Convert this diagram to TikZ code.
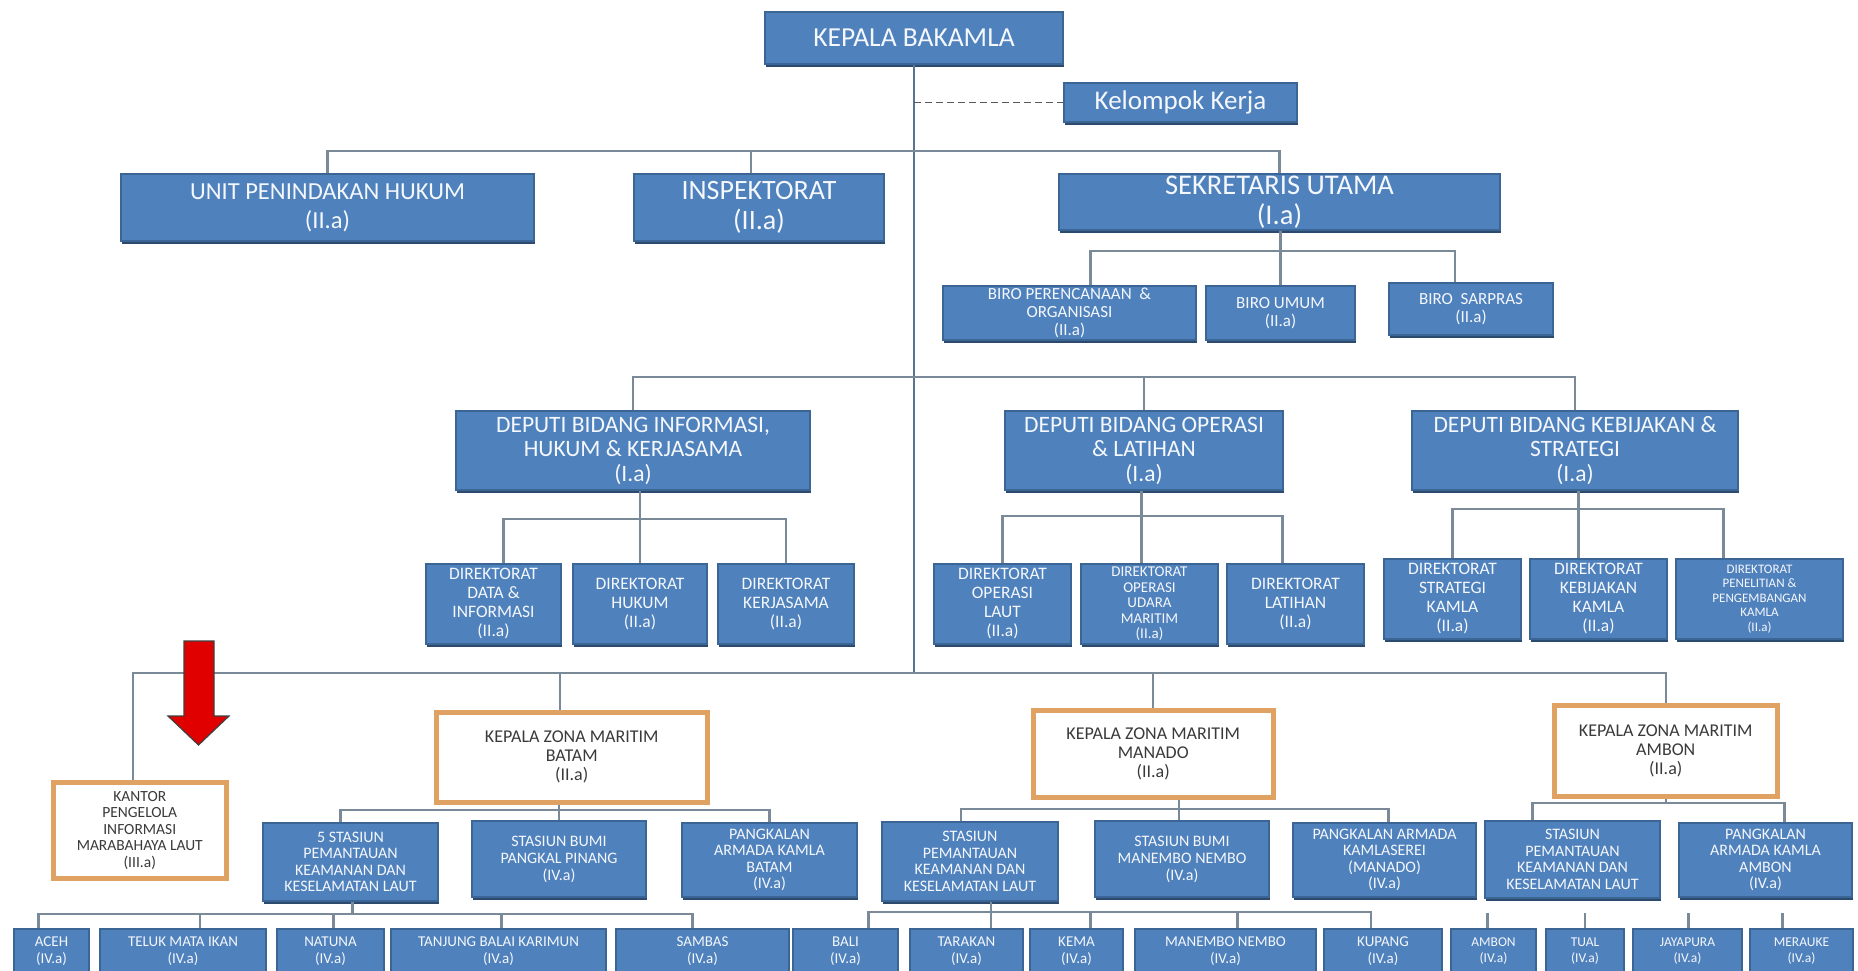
\documentclass[tikz,border=0pt]{standalone}
\usepackage{fontspec}
\setmainfont{Carlito}
\usetikzlibrary{shadows,calc}
\definecolor{boxblue}{HTML}{4F81BD}
\definecolor{boxedge}{HTML}{3A6595}
\definecolor{boxshadow}{HTML}{2B4A6E}
\definecolor{boxtext}{HTML}{F4F7FB}
\definecolor{connc}{HTML}{7A8A99}
\definecolor{trunkc}{HTML}{5A7490}
\definecolor{zoneedge}{HTML}{E0A263}
\definecolor{zonetext}{HTML}{3A3A3A}
\definecolor{arrowred}{HTML}{E00000}
\tikzset{
  bbox/.style={draw=boxedge, line width=2pt, fill=boxblue, text=boxtext, inner sep=0pt, align=center,
     drop shadow={shadow xshift=0.5pt, shadow yshift=-3pt, fill=boxshadow, opacity=1}},
  zbox/.style={draw=zoneedge, line width=4.5pt, fill=white, text=zonetext, inner sep=0pt, align=center,
     drop shadow={shadow xshift=1pt, shadow yshift=-2pt, fill=black!20, opacity=1}},
  conn/.style={draw=connc, line width=2.2pt},
  trunk/.style={draw=trunkc, line width=1.6pt},
  dashconn/.style={draw=black!65, line width=1.6pt, dash pattern=on 7pt off 4pt},
  fsz/.style 2 args={font=\fontsize{#1}{#2}\selectfont},
}
\newcommand{\bx}[7]{\node[#1, anchor=north west, minimum width={#5-#3}, minimum height={#6-#4}] (#2) at (#3,#4) {#7};}
\begin{document}
\begin{tikzpicture}[x=1pt,y=-1pt]
\useasboundingbox (0,0) rectangle (1858,970);
\fill[white] (0,0) rectangle (1858,970);

% ---------- bus coordinates ----------
\coordinate (tb) at (0,151);
\coordinate (sb) at (0,251);
\coordinate (db) at (0,377);
\coordinate (ib) at (0,519);
\coordinate (ob) at (0,516);
\coordinate (kb) at (0,509);
\coordinate (bb) at (0,673);
\coordinate (zb1) at (0,810);
\coordinate (zb2) at (0,809);
\coordinate (zb3) at (0,803);
\coordinate (bt1) at (0,914);
\coordinate (bt2) at (0,912);

% ---------- top ----------
\bx{bbox,fsz={27.5}{31}}{kep}{764}{11}{1062}{63}{KEPALA BAKAMLA}
\bx{bbox,fsz={27}{31}}{kk}{1063}{82}{1296}{121}{Kelompok Kerja}
\bx{bbox,fsz={24.5}{29}}{unit}{120}{173}{533}{240}{UNIT PENINDAKAN HUKUM\\(II.a)}
\bx{bbox,fsz={28}{30}}{insp}{633}{173}{883}{240}{INSPEKTORAT\\(II.a)}
\bx{bbox,fsz={28.5}{30}}{sek}{1058}{173}{1499}{229}{SEKRETARIS UTAMA\\(I.a)}
\bx{bbox,fsz={17}{18}}{biro1}{942}{285}{1195}{339}{BIRO PERENCANAAN \ \&\\ORGANISASI\\(II.a)}
\bx{bbox,fsz={17}{18}}{biro2}{1205}{285}{1354}{339}{BIRO UMUM\\(II.a)}
\bx{bbox,fsz={17}{18}}{biro3}{1388}{282}{1552}{334}{BIRO \ SARPRAS\\(II.a)}

% ---------- deputies ----------
\bx{bbox,fsz={23.5}{24.5}}{dep1}{455}{410}{809}{489}{DEPUTI BIDANG INFORMASI,\\HUKUM \& KERJASAMA\\(I.a)}
\bx{bbox,fsz={23.5}{24.5}}{dep2}{1004}{410}{1282}{489}{DEPUTI BIDANG OPERASI\\\& LATIHAN\\(I.a)}
\bx{bbox,fsz={23.5}{24.5}}{dep3}{1411}{410}{1737}{489}{DEPUTI BIDANG KEBIJAKAN \&\\STRATEGI\\(I.a)}

% ---------- directorates ----------
\bx{bbox,fsz={17.5}{19}}{d11}{425}{563}{560}{643}{DIREKTORAT\\DATA \&\\INFORMASI\\(II.a)}
\bx{bbox,fsz={17.5}{19}}{d12}{572}{563}{706}{643}{DIREKTORAT\\HUKUM\\(II.a)}
\bx{bbox,fsz={17.5}{19}}{d13}{717}{563}{853}{643}{DIREKTORAT\\KERJASAMA\\(II.a)}
\bx{bbox,fsz={17.5}{19}}{d21}{933}{563}{1070}{643}{DIREKTORAT\\OPERASI\\LAUT\\(II.a)}
\bx{bbox,fsz={15}{15.5}}{d22}{1080}{563}{1217}{643}{DIREKTORAT\\OPERASI\\UDARA\\MARITIM\\(II.a)}
\bx{bbox,fsz={17.5}{19}}{d23}{1226}{563}{1363}{643}{DIREKTORAT\\LATIHAN\\(II.a)}
\bx{bbox,fsz={17.5}{19}}{d31}{1383}{558}{1520}{638}{DIREKTORAT\\STRATEGI\\KAMLA\\(II.a)}
\bx{bbox,fsz={17.5}{19}}{d32}{1529}{558}{1666}{638}{DIREKTORAT\\KEBIJAKAN\\KAMLA\\(II.a)}
\bx{bbox,fsz={13}{14.5}}{d33}{1675}{558}{1842}{638}{DIREKTORAT\\PENELITIAN \&\\PENGEMBANGAN\\KAMLA\\(II.a)}

% ---------- zones ----------
\bx{zbox,fsz={15.5}{16.5}}{kan}{51}{780}{224}{876}{KANTOR\\PENGELOLA\\INFORMASI\\MARABAHAYA LAUT\\(III.a)}
\bx{zbox,fsz={18}{19}}{z1}{434}{710}{705}{800}{KEPALA ZONA MARITIM\\BATAM\\(II.a)}
\bx{zbox,fsz={18}{19}}{z2}{1031}{708}{1271}{795}{KEPALA ZONA MARITIM\\MANADO\\(II.a)}
\bx{zbox,fsz={18}{19}}{z3}{1552}{703}{1775}{794}{KEPALA ZONA MARITIM\\AMBON\\(II.a)}

% ---------- stations ----------
\bx{bbox,fsz={16}{16.5}}{s11}{262}{822}{437}{900}{5 STASIUN\\PEMANTAUAN\\KEAMANAN DAN\\KESELAMATAN LAUT}
\bx{bbox,fsz={16}{17}}{s12}{471}{820}{645}{896}{STASIUN BUMI\\PANGKAL PINANG\\(IV.a)}
\bx{bbox,fsz={16}{16.5}}{s13}{681}{822}{856}{896}{PANGKALAN\\ARMADA KAMLA\\BATAM\\(IV.a)}
\bx{bbox,fsz={16}{16.5}}{s21}{881}{821}{1057}{900}{STASIUN\\PEMANTAUAN\\KEAMANAN DAN\\KESELAMATAN LAUT}
\bx{bbox,fsz={16}{17}}{s22}{1094}{820}{1268}{896}{STASIUN BUMI\\MANEMBO NEMBO\\(IV.a)}
\bx{bbox,fsz={16}{16.5}}{s23}{1292}{822}{1475}{896}{PANGKALAN ARMADA\\KAMLASEREI\\(MANADO)\\(IV.a)}
\bx{bbox,fsz={16}{16.5}}{s31}{1484}{820}{1659}{897}{STASIUN\\PEMANTAUAN\\KEAMANAN DAN\\KESELAMATAN LAUT}
\bx{bbox,fsz={16}{16.5}}{s32}{1678}{822}{1851}{896}{PANGKALAN\\ARMADA KAMLA\\AMBON\\(IV.a)}

% ---------- bottom row ----------
\bx{bbox,fsz={15}{17}}{aceh}{13}{928}{88}{972}{ACEH\\(IV.a)}
\bx{bbox,fsz={15}{17}}{teluk}{99}{928}{265}{972}{TELUK MATA IKAN\\(IV.a)}
\bx{bbox,fsz={15}{17}}{natuna}{276}{928}{383}{972}{NATUNA\\(IV.a)}
\bx{bbox,fsz={15}{17}}{tanjung}{390}{928}{605}{972}{TANJUNG BALAI KARIMUN\\(IV.a)}
\bx{bbox,fsz={15}{17}}{sambas}{615}{928}{788}{972}{SAMBAS\\(IV.a)}
\bx{bbox,fsz={15}{17}}{bali}{792}{928}{897}{972}{BALI\\(IV.a)}
\bx{bbox,fsz={15}{17}}{tarakan}{909}{928}{1022}{972}{TARAKAN\\(IV.a)}
\bx{bbox,fsz={15}{17}}{kema}{1029}{928}{1122}{972}{KEMA\\(IV.a)}
\bx{bbox,fsz={15}{17}}{manembo}{1134}{928}{1315}{972}{MANEMBO NEMBO\\(IV.a)}
\bx{bbox,fsz={15}{17}}{kupang}{1323}{928}{1441}{972}{KUPANG\\(IV.a)}
\bx{bbox,fsz={13.5}{15.5}}{ambon}{1450}{928}{1535}{972}{AMBON\\(IV.a)}
\bx{bbox,fsz={13.5}{15.5}}{tual}{1545}{928}{1623}{972}{TUAL\\(IV.a)}
\bx{bbox,fsz={13.5}{15.5}}{jaya}{1632}{928}{1741}{972}{JAYAPURA\\(IV.a)}
\bx{bbox,fsz={13.5}{15.5}}{merauke}{1749}{928}{1852}{972}{MERAUKE\\(IV.a)}

% ---------- connectors ----------
\draw[trunk] (kep.south) -- (kep.south |- bb);
\draw[dashconn] (kep.south |- kk.west) -- (kk.west);

% top level
\coordinate (inspt) at ([xshift=-8pt]insp.north);
\draw[conn] (unit.north) |- (tb -| sek.north) -- (sek.north);
\draw[conn] (inspt) -- (inspt |- tb);

% sekretaris
\coordinate (b1t) at ([xshift=21pt]biro1.north);
\coordinate (b3t) at ([xshift=-16pt]biro3.north);
\draw[conn] (biro2.north |- sek.south) -- (biro2.north);
\draw[conn] (b1t) |- (sb -| b3t) -- (b3t);

% deputies
\draw[conn] (dep1.north) |- (db -| dep3.north) -- (dep3.north);
\draw[conn] (dep2.north) -- (dep2.north |- db);

% info directorates
\coordinate (d11t) at ([xshift=10pt]d11.north);
\draw[conn] (d12.north |- dep1.south) -- (d12.north);
\draw[conn] (d11t) |- (ib -| d13.north) -- (d13.north);

% operasi directorates
\coordinate (d22t) at ([xshift=-8pt]d22.north);
\coordinate (d23t) at ([xshift=-13pt]d23.north);
\draw[conn] (d22t |- dep2.south) -- (d22t);
\draw[conn] (d21.north) |- (ob -| d23t) -- (d23t);

% kebijakan directorates
\coordinate (d32t) at ([xshift=-20pt]d32.north);
\coordinate (d33t) at ([xshift=-36pt]d33.north);
\draw[conn] (d32t |- dep3.south) -- (d32t);
\draw[conn] (d31.north) |- (kb -| d33t) -- (d33t);

% bottom bus
\coordinate (kant) at ([xshift=-7pt]kan.north);
\coordinate (z1t) at ([xshift=-12pt]z1.north);
\draw[conn] (kant) |- (bb -| z3.north) -- (z3.north);
\draw[conn] (z1t) -- (z1t |- bb);
\draw[conn] (z2.north) -- (z2.north |- bb);

% batam
\coordinate (z1b) at ([xshift=-13pt]z1.south);
\coordinate (s11t) at ([xshift=-10pt]s11.north);
\draw[conn] (z1b) -- (z1b |- s12.north);
\draw[conn] (s11t) |- (zb1 -| s13.north) -- (s13.north);

% manado
\coordinate (z2b) at ([xshift=26pt]z2.south);
\coordinate (s21t) at ([xshift=-9pt]s21.north);
\coordinate (s23t) at ([xshift=4pt]s23.north);
\draw[conn] (z2b) -- (z2b |- s22.north);
\draw[conn] (s21t) |- (zb2 -| s23t) -- (s23t);

% ambon
\coordinate (s31t) at ([xshift=-40pt]s31.north);
\coordinate (s32t) at ([xshift=19pt]s32.north);
\draw[conn] (z3.south) -- (z3.south |- zb3);
\draw[conn] (s31t) |- (zb3 -| s32t) -- (s32t);

% batam stations
\coordinate (s11b) at ([xshift=2pt]s11.south);
\coordinate (acehT) at ([xshift=-13pt]aceh.north);
\coordinate (telukT) at ([xshift=17pt]teluk.north);
\coordinate (natunaT) at ([xshift=3pt]natuna.north);
\coordinate (tanjungT) at ([xshift=3pt]tanjung.north);
\coordinate (sambasT) at ([xshift=-10pt]sambas.north);
\draw[conn] (s11b) -- (s11b |- bt1);
\draw[conn] (acehT) |- (bt1 -| sambasT) -- (sambasT);
\draw[conn] (telukT) -- (telukT |- bt1);
\draw[conn] (natunaT) -- (natunaT |- bt1);
\draw[conn] (tanjungT) -- (tanjungT |- bt1);

% manado stations
\coordinate (s21b) at ([xshift=21pt]s21.south);
\coordinate (baliT) at ([xshift=23pt]bali.north);
\coordinate (kemaT) at ([xshift=14pt]kema.north);
\coordinate (manemboT) at ([xshift=12pt]manembo.north);
\coordinate (kupangT) at ([xshift=-12pt]kupang.north);
\draw[conn] (s21b) -- (s21b |- tarakan.north);
\draw[conn] (baliT) |- (bt2 -| kupangT) -- (kupangT);
\draw[conn] (kemaT) -- (kemaT |- bt2);
\draw[conn] (manemboT) -- (manemboT |- bt2);

% ambon stations (short stubs)
\coordinate (ambonT) at ([xshift=-6pt]ambon.north);
\coordinate (tualT) at (tual.north);
\coordinate (jayaT) at ([xshift=1pt]jaya.north);
\coordinate (meraukeT) at ([xshift=-19pt]merauke.north);
\draw[conn] (ambonT) -- ++(0,-15);
\draw[conn] (tualT) -- ++(0,-15);
\draw[conn] (jayaT) -- ++(0,-15);
\draw[conn] (meraukeT) -- ++(0,-15);

% red arrow
\draw[fill=arrowred, draw=black!75, line width=1.2pt, line join=miter]
  (184,641) -- (214,641) -- (214,716) -- (229,716) -- (198.5,745) -- (168,716) -- (184,716) -- cycle;
\end{tikzpicture}
\end{document}
